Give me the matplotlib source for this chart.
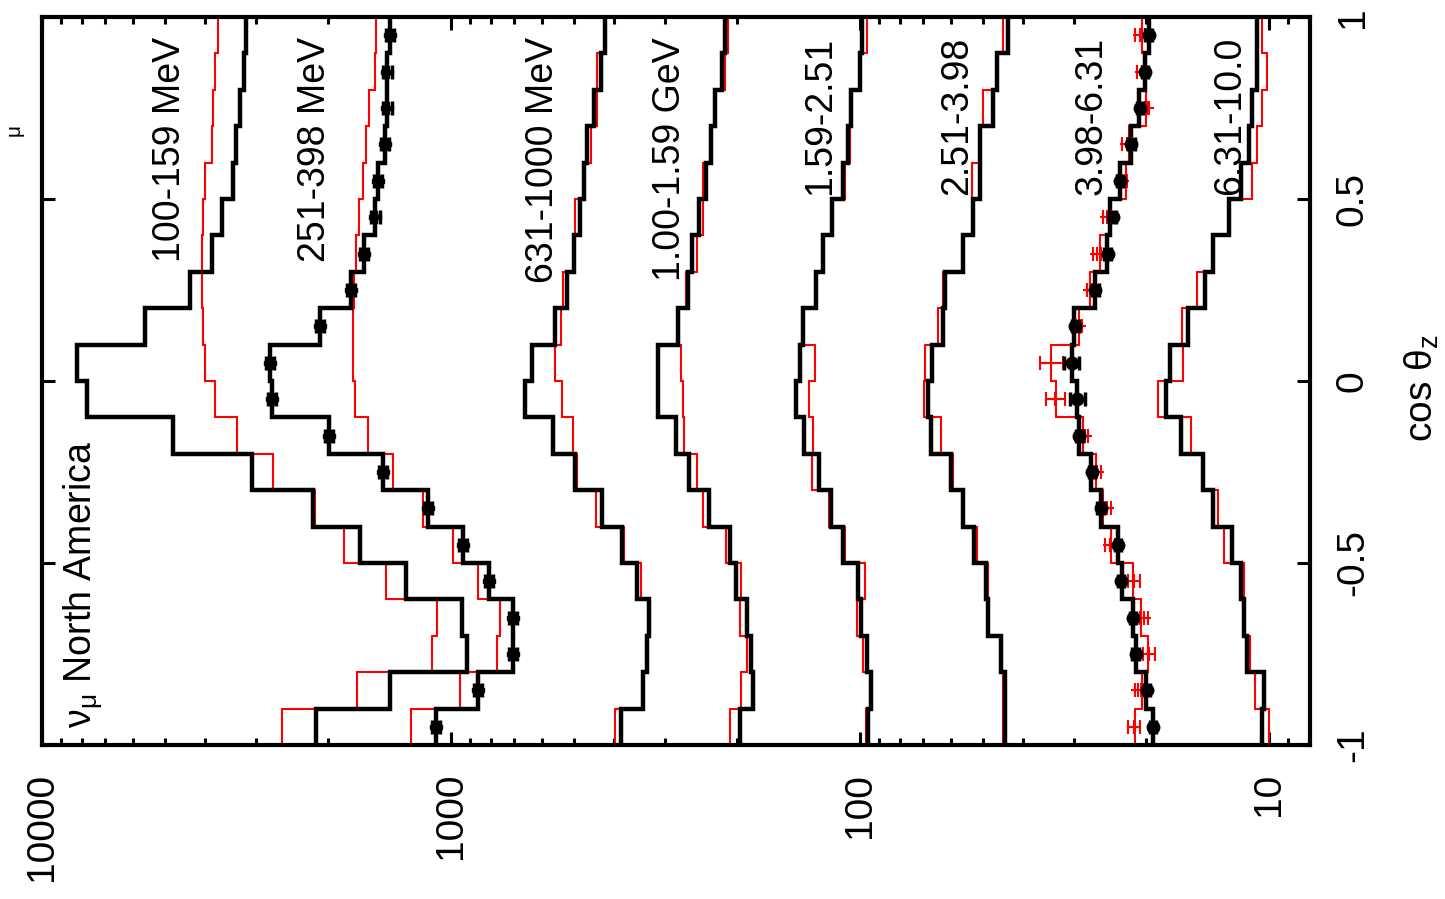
import numpy as np
import matplotlib
matplotlib.use('Agg')
import matplotlib.pyplot as plt
from matplotlib.ticker import LogLocator, NullFormatter, NullLocator

plt.rcParams['font.family'] = ['Liberation Sans', 'DejaVu Sans']
plt.rcParams['mathtext.default'] = 'regular'

# zenith angle binning: 20 bins in cos(theta_z)
cos_edges = np.linspace(-1.0, 1.0, 21)
cos_mid = 0.5 * (cos_edges[:-1] + cos_edges[1:])

band_labels = ['100-159 MeV', '251-398 MeV', '631-1000 MeV', '1.00-1.59 GeV',
               '1.59-2.51', '2.51-3.98', '3.98-6.31', '6.31-10.0']

# flux per cos bin, from cos = -1 up to cos = +1
black_100_159 = [2140, 1410, 914, 940, 1290, 1670, 2180, 3070, 4780, 7760,
                 8210, 5600, 4350, 3840, 3620, 3410, 3350, 3280, 3210, 3170]
red_100_159 = [2590, 1700, 1110, 1080, 1440, 1830, 2150, 2720, 3340, 3780,
               4000, 4040, 4060, 4060, 4040, 4000, 3840, 3820, 3780, 3710]

black_251_398 = [1090, 859, 705, 705, 807, 935, 1140, 1470, 1990, 2740,
                 2770, 2090, 1760, 1630, 1530, 1510, 1450, 1430, 1430, 1410]
red_251_398 = [1250, 951, 772, 759, 859, 989, 1170, 1390, 1600, 1720,
               1740, 1740, 1730, 1710, 1680, 1640, 1610, 1590, 1530, 1525]

black_631_1000 = [385, 340, 332, 328, 350, 382, 428, 498, 563, 659,
                  634, 557, 521, 499, 484, 472, 466, 446, 430, 420]
red_631_1000 = [397, 340, 333, 329, 344, 378, 442, 493, 502, 536,
                557, 539, 531, 504, 498, 472, 455, 440, 440, 420]

black_100_159g = [197, 183, 185, 189, 201, 208, 234, 262, 281, 311,
                  311, 279, 263, 257, 247, 238, 231, 226, 217, 214]
red_100_159g = [208, 195, 189, 197, 195, 213, 242, 251, 269, 271,
                274, 277, 267, 251, 242, 242, 233, 226, 214, 210]

black_159_251 = [95.8, 94.1, 96.3, 99.4, 101, 110, 118, 126, 137, 143,
                 140, 138, 128, 123, 117, 110, 107, 105, 100, 99]
red_159_251 = [96.7, 94.1, 98.1, 101.5, 97.2, 109, 119, 131, 130, 133,
               129, 139, 129, 123, 117, 109, 106, 106, 100, 96]

black_251_398g = [44.2, 44.2, 45.3, 48.6, 49.2, 52.5, 56.1, 59.9, 67.2, 68.3,
                  66.8, 62.8, 62.0, 56.1, 53.0, 50.9, 50.9, 47.2, 46.3, 43.5]
red_251_398g = [44.6, 44.8, 45.3, 48.6, 48.7, 51.8, 56.1, 59.1, 63.5, 69.7,
                69.4, 64.4, 62.6, 56.1, 53.0, 53.3, 50.9, 50.1, 46.3, 44.6]

black_398_631 = [19.2, 20.0, 21.2, 21.5, 22.9, 23.4, 25.8, 27.3, 29.1, 29.4,
                 30.4, 29.9, 26.6, 24.9, 24.5, 23.1, 21.7, 20.8, 20.1, 19.7]
red_398_631 = [21.3, 20.4, 19.8, 20.6, 21.5, 24.3, 25.4, 26.5, 28.5, 33.2,
               34.2, 29.1, 27.4, 25.9, 24.5, 22.4, 22.0, 20.0, 20.2, 20.4]

black_631_1000g = [10.4, 10.3, 11.3, 11.5, 11.7, 12.3, 13.7, 14.5, 16.4, 17.9,
                   17.5, 15.8, 14.3, 13.7, 12.5, 11.7, 11.2, 11.0, 10.7, 10.7]
red_631_1000g = [10.0, 10.8, 11.1, 11.6, 11.5, 12.9, 13.3, 14.4, 15.5, 18.7,
                 16.2, 16.3, 15.0, 13.7, 12.5, 11.0, 10.7, 10.4, 10.1, 10.4]

black_hists = [black_100_159, black_251_398, black_631_1000, black_100_159g,
               black_159_251, black_251_398g, black_398_631, black_631_1000g]
red_hists = [red_100_159, red_251_398, red_631_1000, red_100_159g,
             red_159_251, red_251_398g, red_398_631, red_631_1000g]

# points with errors
pts_251_398 = [1090, 859, 705, 705, 807, 935, 1140, 1470, 1990, 2740,
               2770, 2090, 1760, 1630, 1530, 1510, 1450, 1430, 1430, 1410]
err_251_398 = [25, 20, 16, 16, 19, 22, 26, 34, 46, 63,
               64, 48, 40, 37, 35, 35, 33, 33, 33, 32]

pts_398_631 = [19.2, 19.9, 21.2, 21.5, 23.0, 23.4, 25.8, 27.1, 29.1, 29.4,
               30.4, 29.8, 26.6, 24.8, 24.1, 23.1, 21.7, 20.7, 20.1, 19.7]
err_398_631 = [0.35, 0.35, 0.4, 0.4, 0.4, 0.4, 0.5, 0.5, 0.6, 1.2,
               1.3, 0.6, 0.5, 0.45, 0.45, 0.4, 0.4, 0.35, 0.35, 0.35]

red_pts_398_631 = [21.35, 20.87, 19.65, 20.21, 21.35, 24.48, 24.93, 26.38, 28.18, 33.36,
                   34.18, 29.10, 27.40, 26.29, 24.85, 22.92, 22.28, 19.91, 20.47, 20.67]
red_err_398_631 = [0.73, 0.35, 0.67, 0.46, 0.73, 0.63, 0.53, 0.6, 0.48, 1.8,
                   2.2, 0.5, 0.47, 0.6, 0.56, 0.65, 0.63, 0.22, 0.58, 0.59]

# where each band label ends (flux of the text baseline, cos of the text end)
label_anchor = [(4600, 0.945), (2030, 0.945), (563, 0.945), (276, 0.945),
                (118, 0.945), (54.7, 0.945), (25.6, 0.945), (11.8, 0.945)]

fig = plt.figure(figsize=(14.45, 8.99), dpi=100)
ax = fig.add_axes([42 / 1445, 154 / 899, 1268 / 1445, 728 / 899])

for vals in red_hists:
    ax.stairs(vals, cos_edges, orientation='horizontal', baseline=None,
              color='red', lw=1.5, zorder=2)
for vals in black_hists:
    ax.stairs(vals, cos_edges, orientation='horizontal', baseline=None,
              color='black', lw=3.2, zorder=3)

ax.errorbar(red_pts_398_631, cos_mid, xerr=red_err_398_631, fmt='+', color='red',
            ms=10, mew=1.5, elinewidth=1.5, capsize=5, capthick=1.5, zorder=4)
ax.errorbar(pts_251_398, cos_mid, xerr=err_251_398, fmt='P', color='black',
            ms=9, elinewidth=2.5, capsize=5, capthick=2.5, zorder=5)
ax.errorbar(pts_398_631, cos_mid, xerr=err_398_631, fmt='o', color='black',
            ms=9, elinewidth=2.5, capsize=5, capthick=2.5, zorder=5)

for text, (fx, cy) in zip(band_labels, label_anchor):
    ax.text(fx, cy, text, rotation=90, rotation_mode='anchor', ha='right',
            va='baseline', fontsize=27, zorder=6)

ax.text(7548, -0.953, 'ν$_{μ}$ North America', rotation=90, rotation_mode='anchor',
        ha='left', va='baseline', fontsize=27, zorder=6)

ax.set_xscale('log')
ax.set_xlim(1e4, 7.94)
ax.set_ylim(-1, 1)
ax.set_xticks([1e4, 1e3, 1e2, 1e1], labels=['10000', '1000', '100', '10'])
ax.xaxis.set_minor_locator(LogLocator(base=10, subs=np.arange(2, 10)))
ax.xaxis.set_minor_formatter(NullFormatter())
ax.set_yticks([-1, -0.5, 0, 0.5, 1], labels=['-1', '-0.5', '0', '0.5', '1'])
ax.yaxis.set_minor_locator(NullLocator())

ax.tick_params(which='both', direction='in', top=True, bottom=True,
               left=True, right=True, width=2.2)
ax.tick_params(which='major', length=9.5)
ax.tick_params(which='minor', length=5)
ax.tick_params(axis='x', labelsize=28, labelrotation=90, pad=20)
ax.tick_params(axis='y', labelsize=28, labelrotation=90, labelleft=False,
               labelright=True, pad=18)
for t in ax.yaxis.get_major_ticks():
    t.label2.set_va('center')

for sp in ax.spines.values():
    sp.set_linewidth(3)

fig.text(1422 / 1445, 1 - 388 / 899, 'cos θ$_{z}$', rotation=90,
         ha='center', va='center', fontsize=28)
fig.text(20 / 1445, 1 - 136 / 899, 'μ', rotation=90, rotation_mode='anchor',
         ha='left', va='baseline', fontsize=15)

fig.savefig('out.png', dpi=100)
